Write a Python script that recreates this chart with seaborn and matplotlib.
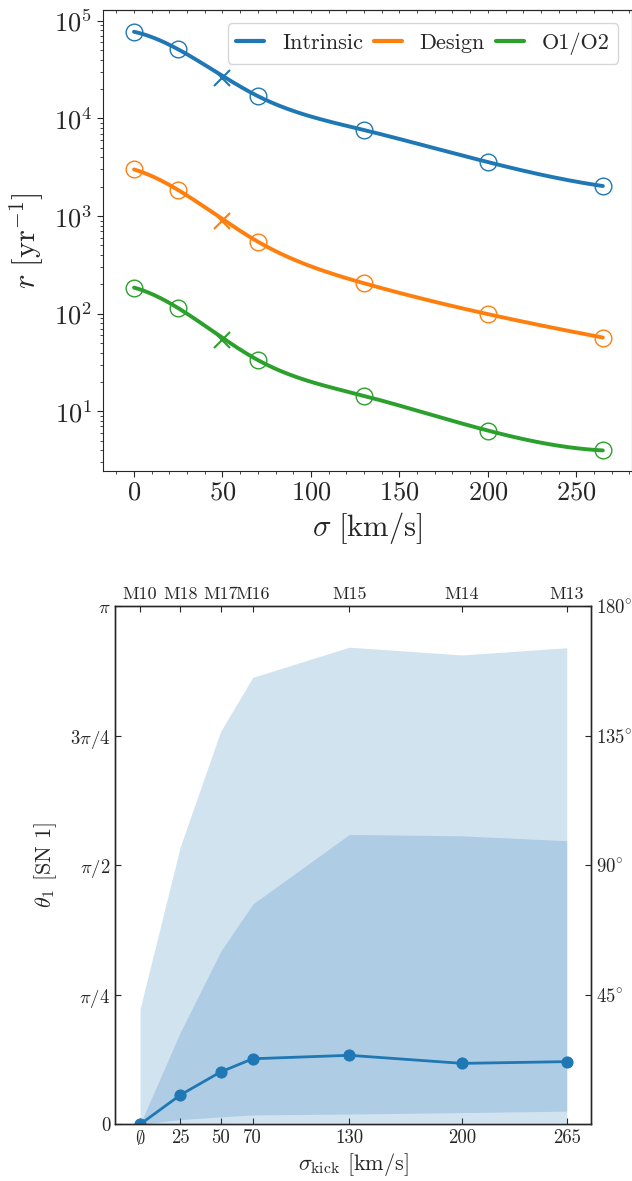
import numpy as np
import pandas as pd
import matplotlib
matplotlib.use("Agg")
import matplotlib.pyplot as plt
import seaborn as sns
from matplotlib.ticker import MultipleLocator, NullFormatter

# ---------------- data: top panel ----------------
sigma = [0, 25, 70, 130, 200, 265]
rate_intrinsic = [77100, 50900, 16900, 7600, 3570, 2030]
rate_design = [3000, 1845, 546, 205, 99, 57]
rate_o1o2 = [185, 114, 33.5, 14.4, 6.36, 3.98]
sigma_cross = [50]
cross_intrinsic = [25700]
cross_design = [895]
cross_o1o2 = [54.4]
series_names = ["Intrinsic", "Design", "O1/O2"]

# ---------------- data: bottom panel ----------------
kick = [0, 25, 50, 70, 130, 200, 265]
kick_labels = [r"$\emptyset$", "25", "50", "70", "130", "200", "265"]
model_labels = ["M10", "M18", "M17", "M16", "M15", "M14", "M13"]
theta_median_deg = [0, 10.2, 18.2, 22.8, 24.0, 21.2, 21.8]
theta_inner_lo_deg = [0, 1.7, 2.6, 3.3, 3.6, 4.1, 4.6]
theta_inner_hi_deg = [0, 32.0, 60.0, 76.5, 100.7, 100.2, 98.5]
theta_outer_lo_deg = [0, 0.3, 0.4, 0.5, 0.5, 0.5, 0.5]
theta_outer_hi_deg = [40.0, 96.4, 136.4, 155.2, 165.7, 163.0, 165.5]

sns.set_style("ticks")
plt.rcParams["font.family"] = "serif"
plt.rcParams["font.serif"] = ["cmr10"]
plt.rcParams["mathtext.fontset"] = "cm"
plt.rcParams["axes.formatter.use_mathtext"] = True
plt.rcParams["axes.unicode_minus"] = False

colors = sns.color_palette("tab10")


def notaknot_spline(x, y, xs):
    x = np.asarray(x, float)
    y = np.asarray(y, float)
    n = len(x)
    h = np.diff(x)
    A = np.zeros((n, n))
    b = np.zeros(n)
    A[0, 0], A[0, 1], A[0, 2] = h[1], -(h[0] + h[1]), h[0]
    A[-1, -3], A[-1, -2], A[-1, -1] = h[-1], -(h[-2] + h[-1]), h[-2]
    for i in range(1, n - 1):
        A[i, i - 1] = h[i - 1]
        A[i, i] = 2 * (h[i - 1] + h[i])
        A[i, i + 1] = h[i]
        b[i] = 6 * ((y[i + 1] - y[i]) / h[i] - (y[i] - y[i - 1]) / h[i - 1])
    M = np.linalg.solve(A, b)
    idx = np.clip(np.searchsorted(x, xs) - 1, 0, n - 2)
    x0, x1 = x[idx], x[idx + 1]
    hh = x1 - x0
    return (M[idx] * (x1 - xs) ** 3 / (6 * hh) + M[idx + 1] * (xs - x0) ** 3 / (6 * hh)
            + (y[idx] / hh - M[idx] * hh / 6) * (x1 - xs)
            + (y[idx + 1] / hh - M[idx + 1] * hh / 6) * (xs - x0))


fig = plt.figure(figsize=(6.32, 11.81), dpi=100)

# ================= top panel =================
ax = fig.add_axes([0.1625, 0.6014, 0.8370, 0.3901])
xs = np.linspace(sigma[0], sigma[-1], 400)
for name, vals, cx, col in zip(series_names,
                               [rate_intrinsic, rate_design, rate_o1o2],
                               [cross_intrinsic, cross_design, cross_o1o2],
                               colors[:3]):
    curve = 10 ** notaknot_spline(sigma, np.log10(vals), xs)
    sns.lineplot(x=xs, y=curve, ax=ax, color=col, lw=2.8, label=name,
                 estimator=None, sort=False)
    ax.plot(sigma, vals, linestyle="none", marker="o", ms=12, mfc="none",
            mec=col, mew=1.0)
    ax.plot(sigma_cross, cx, linestyle="none", marker="x", ms=12, mec=col, mew=1.5)

ax.set_yscale("log")
ax.set_xlim(-17.7, 281.3)
ax.set_ylim(2.465, 1.287e5)
ax.xaxis.set_major_locator(MultipleLocator(50))
ax.xaxis.set_minor_locator(MultipleLocator(10))
ax.tick_params(axis="both", which="major", direction="out", labelsize=19, length=4, width=0.8)
ax.tick_params(axis="both", which="minor", direction="out", length=2.5, width=0.6)
ax.set_xlabel(r"$\sigma\ [\mathrm{km/s}]$", fontsize=22, labelpad=4)
ax.set_ylabel(r"$r\ [\mathrm{yr}^{-1}]$", fontsize=22, labelpad=6)
sec = ax.secondary_xaxis("top")
sec.xaxis.set_major_locator(MultipleLocator(10))
sec.xaxis.set_major_formatter(NullFormatter())
sec.tick_params(direction="in", length=2.5, width=0.6)
leg = ax.legend(loc="upper right", ncol=3, fontsize=16, handlelength=1.25,
                columnspacing=0.5, handletextpad=0.8, borderaxespad=0.6,
                frameon=True, fancybox=True)
for line in leg.get_lines():
    line.set_linewidth(3)
leg.get_frame().set_edgecolor("#cccccc")

# ================= bottom panel =================
bx = fig.add_axes([0.182, 0.0479, 0.753, 0.4390])
kick_arr = np.array(kick, float)
rad = np.deg2rad
bx.fill_between(kick_arr, rad(theta_outer_lo_deg), rad(theta_outer_hi_deg),
                color=colors[0], alpha=0.2, lw=0)
bx.fill_between(kick_arr, rad(theta_inner_lo_deg), rad(theta_inner_hi_deg),
                color=colors[0], alpha=0.2, lw=0)
df = pd.DataFrame({"kick": kick, "theta": rad(theta_median_deg)})
sns.lineplot(data=df, x="kick", y="theta", ax=bx, color=colors[0], lw=2,
             marker="o", ms=8, mec=colors[0], estimator=None)
bx.set_xlim(-15.5, 280)
bx.set_ylim(0, np.pi)
bx.set_xticks(kick)
bx.set_xticklabels(kick_labels)
bx.set_yticks([0, np.pi / 4, np.pi / 2, 3 * np.pi / 4, np.pi])
bx.set_yticklabels(["0", r"$\pi/4$", r"$\pi/2$", r"$3\pi/4$", r"$\pi$"])
bx.tick_params(direction="in", labelsize=13.5, length=4, width=0.8)
bx.set_xlabel(r"$\sigma_{\rm kick}$ [km/s]", fontsize=16, labelpad=2)
bx.set_ylabel(r"$\theta_1$ [SN 1]", fontsize=16, labelpad=8)

rx = bx.twinx()
rx.set_ylim(0, 180)
rx.set_yticks([45, 90, 135, 180])
rx.set_yticklabels([r"$45^{\circ}$", r"$90^{\circ}$", r"$135^{\circ}$", r"$180^{\circ}$"])
rx.tick_params(direction="in", labelsize=13.5, length=4, width=0.8)

tx = bx.twiny()
tx.set_xlim(bx.get_xlim())
tx.set_xticks(kick)
tx.set_xticklabels(model_labels)
tx.tick_params(direction="in", labelsize=13, length=4, width=0.8, pad=3)

for a in (bx, rx, tx):
    for s in a.spines.values():
        s.set_linewidth(0.9)

fig.savefig("out.png", dpi=100)
